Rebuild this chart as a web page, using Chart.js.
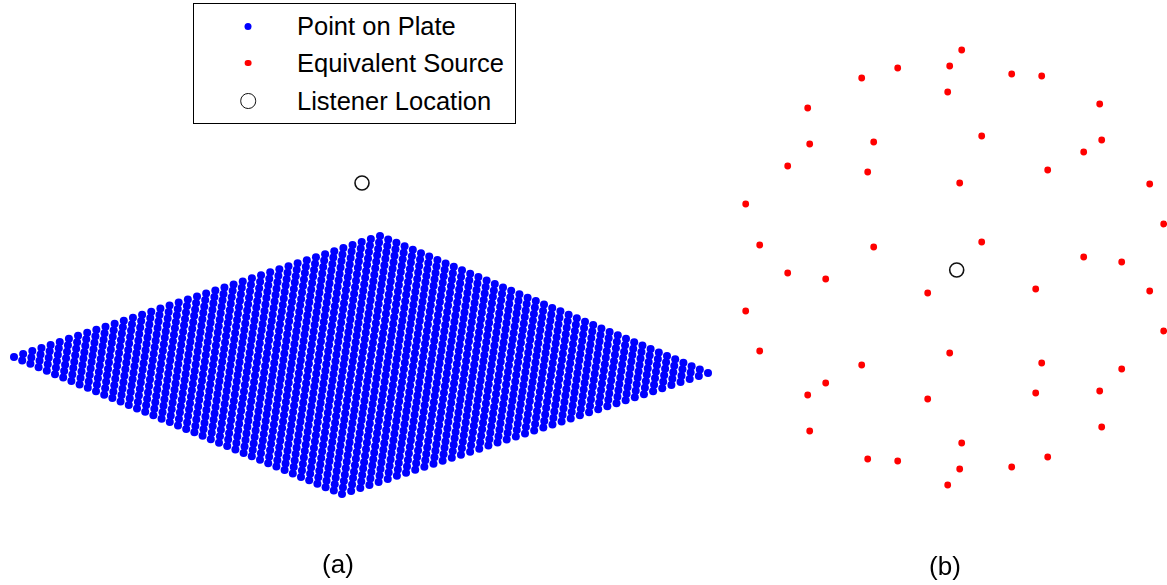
<!DOCTYPE html>
<html>
<head>
<meta charset="utf-8">
<title>Plate points, equivalent sources and listener</title>
<script src="https://cdn.jsdelivr.net/npm/chart.js@4"></script>
<style>
  html, body { margin: 0; padding: 0; background: #fff; }
  #wrap { position: relative; width: 1167px; height: 585px; overflow: hidden;
          font-family: "Liberation Sans", Arial, sans-serif; color: #000; }
  canvas { position: absolute; top: 0; }
  #plateCanvas { left: 0; }
  #sourceCanvas { left: 730px; }
  .caption { position: absolute; font-size: 26px; line-height: 1; transform: translate(-50%, -50%); }
  #legend { position: absolute; left: 193px; top: 3px; width: 321px; height: 119px;
            border: 1px solid #000; background: #fff; box-sizing: content-box; }
  .row { position: absolute; left: 0; height: 30px; display: flex; align-items: center; font-size: 25.5px; }
  .mark { position: absolute; left: 54px; transform: translate(-50%, 0); box-sizing: border-box; border-radius: 50%; }
  .text { position: absolute; left: 103px; white-space: nowrap; }
</style>
</head>
<body>
<div id="wrap">
  <canvas id="plateCanvas" width="730" height="585"></canvas>
  <canvas id="sourceCanvas" width="437" height="585"></canvas>
  <div id="legend"></div>
  <div class="caption" style="left:338px; top:564px;">(a)</div>
  <div class="caption" style="left:945px; top:566px;">(b)</div>
</div>
<script>
// Panel (a): projected plate, corners in drawing units (left, far, right, near)
const plateCornerX = [-3.47, 0.19, 3.47, -0.19];
const plateCornerY = [0.08, 1.29, -0.08, -1.29];
const plateNodesPerSide = 41;
const listenerAX = [0.01];
const listenerAY = [1.82];

// Panel (b): equivalent sources around the listener
const sourceX = [0.05, -0.07, -0.59, -0.95, 0.55, 0.85, -0.09, 1.43, -1.49, 0.25,
                 1.45, 1.27, -1.47, -0.83, -1.69, -0.89, 0.91, 0.03, 1.93, -2.11,
                 2.07, -1.97, -0.83, 0.25, 1.27, 1.65, -1.69, -1.31, -0.29, 0.79,
                 1.93, -2.11, 2.07, -1.97, -0.07, -0.95, 0.85, 1.65, -1.31, -1.49,
                 -0.29, 0.79, 1.43, -1.47, 1.45, 0.05, -0.89, -0.59, 0.91, 0.55,
                 0.03, -0.09];
const sourceY = [2.20, 2.04, 2.02, 1.92, 1.96, 1.94, 1.78, 1.66, 1.62, 1.34,
                 1.30, 1.18, 1.26, 1.28, 1.04, 0.98, 1.00, 0.87, 0.86, 0.66,
                 0.46, 0.25, 0.23, 0.28, 0.13, 0.08, -0.03, -0.09, -0.23, -0.19,
                 -0.21, -0.41, -0.61, -0.81, -0.83, -0.95, -0.93, -0.99, -1.13, -1.25,
                 -1.29, -1.23, -1.21, -1.61, -1.57, -1.73, -1.89, -1.91, -1.87, -1.97,
                 -1.99, -2.15];
const listenerBX = [0];
const listenerBY = [0];

const seriesNames = ['Point on Plate', 'Equivalent Source', 'Listener Location'];

// Mesh nodes of the plate, spanned by its two edges from the left corner
function plateNodes() {
  const n = plateNodesPerSide - 1;
  const ux = plateCornerX[1] - plateCornerX[0], uy = plateCornerY[1] - plateCornerY[0];
  const vx = plateCornerX[3] - plateCornerX[0], vy = plateCornerY[3] - plateCornerY[0];
  const pts = [];
  for (let i = 0; i <= n; i++) {
    for (let j = 0; j <= n; j++) {
      pts.push({ x: plateCornerX[0] + ux * i / n + vx * j / n,
                 y: plateCornerY[0] + uy * i / n + vy * j / n });
    }
  }
  return pts;
}
const zip = (xs, ys) => xs.map((x, i) => ({ x, y: ys[i] }));

const plateStyle = { pointRadius: 4.0, pointBackgroundColor: '#0000ff', pointBorderWidth: 0, pointStyle: 'circle' };
const sourceStyle = { pointRadius: 3.4, pointBackgroundColor: '#ff0000', pointBorderWidth: 0, pointStyle: 'circle' };
const listenerStyle = { pointRadius: 7, pointBackgroundColor: 'rgba(255,255,255,0)', pointBorderColor: '#111',
                        pointBorderWidth: 1.6, pointStyle: 'circle' };

function baseOptions(xmin, xmax, ymin, ymax) {
  return {
    responsive: false,
    animation: false,
    events: [],
    layout: { padding: 0, autoPadding: false },
    plugins: { legend: { display: false }, tooltip: { enabled: false }, title: { display: false } },
    scales: {
      x: { type: 'linear', min: xmin, max: xmax, display: false },
      y: { type: 'linear', min: ymin, max: ymax, display: false }
    }
  };
}

const plateChart = new Chart(document.getElementById('plateCanvas'), {
  type: 'scatter',
  data: {
    datasets: [
      Object.assign({ label: seriesNames[0], data: plateNodes(), clip: false, showLine: false }, plateStyle),
      Object.assign({ label: seriesNames[2], data: zip(listenerAX, listenerAY), clip: false, showLine: false }, listenerStyle)
    ]
  },
  options: baseOptions(-3.61, 3.69, -2.20, 3.65)
});

const sourceChart = new Chart(document.getElementById('sourceCanvas'), {
  type: 'scatter',
  data: {
    datasets: [
      Object.assign({ label: seriesNames[1], data: zip(sourceX, sourceY), clip: false, showLine: false }, sourceStyle),
      Object.assign({ label: seriesNames[2], data: zip(listenerBX, listenerBY), clip: false, showLine: false }, listenerStyle)
    ]
  },
  options: baseOptions(-2.267, 2.103, -3.15, 2.70)
});

// Shared legend built from the chart datasets
(function buildLegend() {
  const entries = [plateChart.data.datasets[0], sourceChart.data.datasets[0], sourceChart.data.datasets[1]];
  const legend = document.getElementById('legend');
  const rowTops = [7, 44, 82];
  entries.forEach((ds, k) => {
    const row = document.createElement('div');
    row.className = 'row';
    row.style.top = rowTops[k] + 'px';
    row.style.width = '100%';
    const mark = document.createElement('span');
    mark.className = 'mark';
    const r = Math.min(ds.pointRadius, 3.5);
    const size = ds.pointBorderWidth ? 2 * ds.pointRadius + ds.pointBorderWidth : 2 * r;
    mark.style.width = size + 'px';
    mark.style.height = size + 'px';
    mark.style.top = (15 - size / 2) + 'px';
    mark.style.background = ds.pointBackgroundColor;
    if (ds.pointBorderWidth) mark.style.border = ds.pointBorderWidth + 'px solid ' + ds.pointBorderColor;
    const text = document.createElement('span');
    text.className = 'text';
    text.textContent = ds.label;
    row.appendChild(mark);
    row.appendChild(text);
    legend.appendChild(row);
  });
})();
</script>
</body>
</html>
